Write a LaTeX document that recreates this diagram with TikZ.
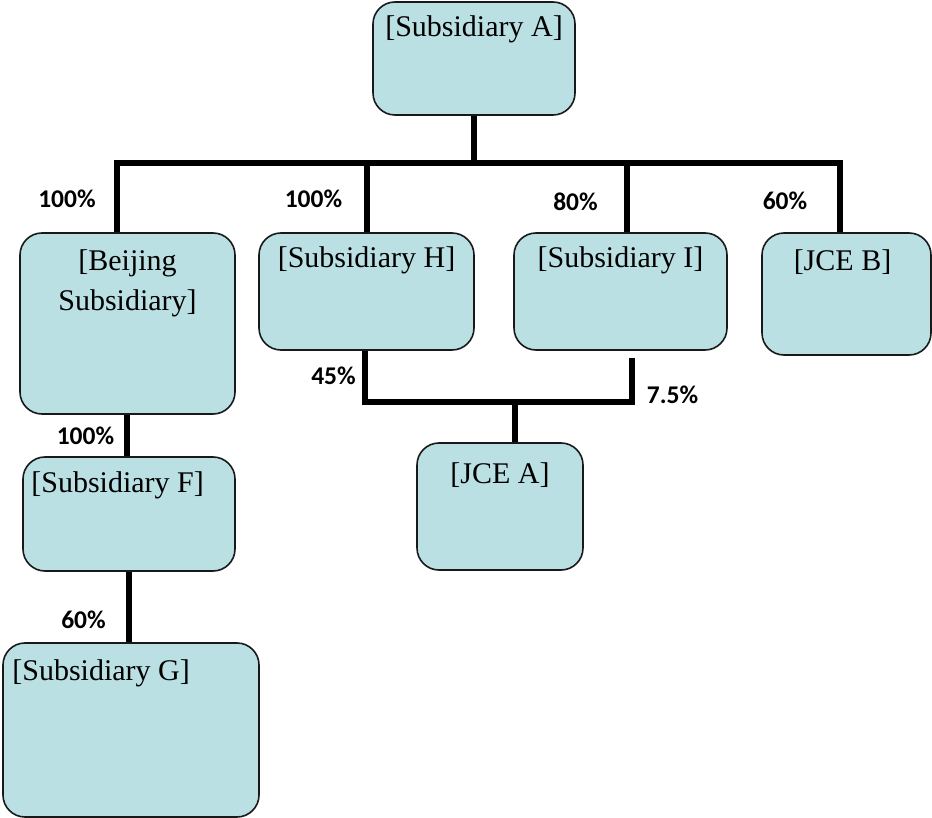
\documentclass[tikz,border=0pt]{standalone}
\usepackage{fontspec}
\setmainfont{Liberation Serif}
\newfontfamily\lblfont{Carlito}
\definecolor{boxfill}{RGB}{186,224,227}
\definecolor{boxline}{RGB}{25,25,25}
\tikzset{
  orgbox/.style n args={2}{draw=boxline, line width=1.6pt, fill=boxfill,
    rounded corners=22pt, inner sep=0pt, minimum width=#1, minimum height=#2},
  boxtext/.style={anchor=north, inner sep=0pt, font=\fontsize{30}{40}\selectfont, align=center},
  boxtextl/.style={anchor=north west, inner sep=0pt, font=\fontsize{30}{40}\selectfont},
  conn/.style={line width=6pt, line join=miter},
  pct/.style={inner sep=0pt, font=\lblfont\bfseries\fontsize{25.5}{28}\selectfont}
}
\begin{document}
\begin{tikzpicture}[x=1pt,y=-1pt]
\useasboundingbox (0,0) rectangle (932,818);
% boxes
\node[orgbox={202pt}{113pt}, label={[boxtext, yshift=-14pt]north:[Subsidiary A]}] (A) at (474,58.5) {};
\node[orgbox={215pt}{181pt}, label={[boxtext, yshift=-17pt]north:[Beijing\\Subsidiary]}] (Bj) at (127.5,323.5) {};
\node[orgbox={215pt}{117pt}, label={[boxtext, yshift=-14pt]north:[Subsidiary H]}] (H) at (366.5,291.5) {};
\node[orgbox={213pt}{117pt}, label={[boxtext, yshift=-14pt]north:[Subsidiary I]}] (I) at (620.5,291.5) {};
\node[orgbox={169pt}{122pt}, label={[boxtext, xshift=-4pt, yshift=-17pt]north:[JCE B]}] (JB) at (846.5,294) {};
\node[orgbox={212pt}{114pt}, label={[boxtextl, xshift=9pt, yshift=-15pt]north west:[Subsidiary F]}] (F) at (129,514) {};
\node[orgbox={166pt}{127pt}, label={[boxtext, yshift=-20pt]north:[JCE A]}] (JA) at (500,506.5) {};
\node[orgbox={256pt}{174pt}, label={[boxtextl, xshift=10pt, yshift=-17pt]north west:[Subsidiary G]}] (G) at (131,730) {};
% junctions
\coordinate (jA) at (474,163);
\coordinate (jJ) at (515,402);
% connectors
\draw[conn] (A.south) -- (jA);
\draw[conn] ([xshift=-10.5pt]Bj.north) |- (jA) -| ([xshift=-6.5pt]JB.north);
\draw[conn] (H.north) -- (H.north |- jA);
\draw[conn] ([xshift=6.5pt]I.north) -- ([xshift=6.5pt]I.north |- jA);
\draw[conn] ([xshift=-1pt]Bj.south) -- ([xshift=-1pt]Bj.south |- F.north);
\draw[conn] (F.south) -- (F.south |- G.north);
\draw[conn] ([xshift=-2pt]H.south) |- (jJ) -| ([xshift=11.5pt,yshift=-7pt]I.south);
\draw[conn] (jJ) -- (jJ |- JA.north);
% percentages
\node[pct] (p1) at (67,199) {100\%};
\node[pct] (p2) at (313.5,199) {100\%};
\node[pct] (p3) at (575.5,201.5) {80\%};
\node[pct] (p4) at (785,201) {60\%};
\node[pct] (p5) at (85.5,435.5) {100\%};
\node[pct] (p6) at (83.5,619.5) {60\%};
\node[pct] (p7) at (333.5,375.5) {45\%};
\node[pct] (p8) at (672.5,394.5) {7.5\%};
\end{tikzpicture}
\end{document}
